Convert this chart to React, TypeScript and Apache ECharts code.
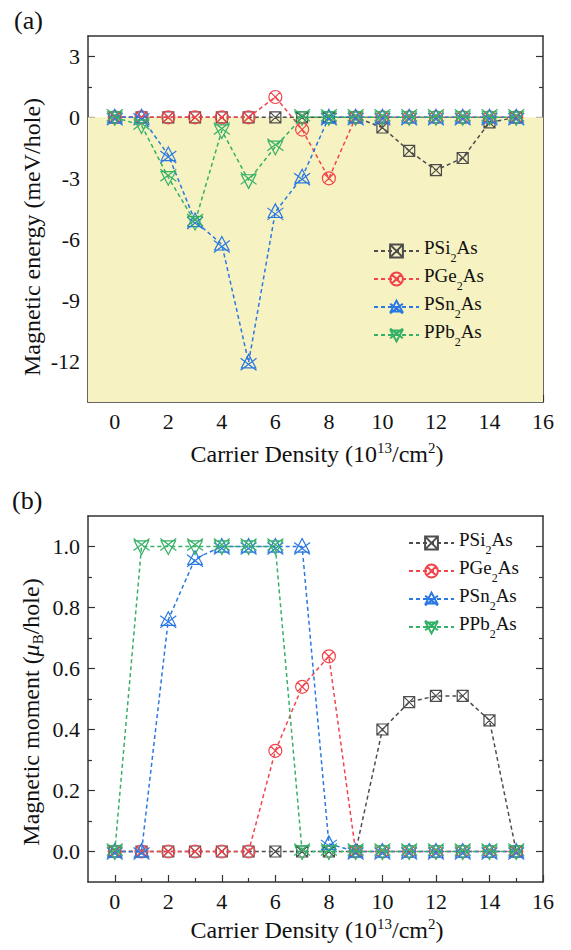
import React, { useEffect, useRef } from 'react';
import * as echarts from 'echarts';

// ---------- data ----------
const densities = [0, 1, 2, 3, 4, 5, 6, 7, 8, 9, 10, 11, 12, 13, 14, 15];
const seriesNames = ['PSi2As', 'PGe2As', 'PSn2As', 'PPb2As'];

const energySi = [0, 0, 0, 0, 0, 0, 0, 0, 0, 0, -0.5, -1.65, -2.6, -2.0, -0.25, 0];
const energyGe = [0, 0, 0, 0, 0, 0, 1.0, -0.6, -3.0, 0, 0, 0, 0, 0, 0, 0];
const energySn = [0, 0, -1.85, -5.1, -6.25, -12.05, -4.65, -2.95, 0, 0, 0, 0, 0, 0, 0, 0];
const energyPb = [0, -0.4, -2.95, -5.15, -0.65, -3.1, -1.45, 0, 0, 0, 0, 0, 0, 0, 0, 0];

const momentSi = [0, 0, 0, 0, 0, 0, 0, 0, 0, 0, 0.40, 0.49, 0.51, 0.51, 0.43, 0];
const momentGe = [0, 0, 0, 0, 0, 0, 0.33, 0.54, 0.64, 0, 0, 0, 0, 0, 0, 0];
const momentSn = [0, 0, 0.76, 0.96, 1.0, 1.0, 1.0, 1.0, 0.025, 0, 0, 0, 0, 0, 0, 0];
const momentPb = [0, 1.0, 1.0, 1.0, 1.0, 1.0, 1.0, 0, 0, 0, 0, 0, 0, 0, 0, 0];

const xMajorTicks = [0, 2, 4, 6, 8, 10, 12, 14, 16];
const xMinorTicks = [1, 3, 5, 7, 9, 11, 13, 15];
const energyMajorTicks = [-12, -9, -6, -3, 0, 3];
const energyMinorTicks = [-13.5, -10.5, -7.5, -4.5, -1.5, 1.5];
const momentMajorTicks = [0, 0.2, 0.4, 0.6, 0.8, 1.0];
const momentMinorTicks = [0.1, 0.3, 0.5, 0.7, 0.9];

// ---------- styles ----------
const FONT = "'Times New Roman', 'Liberation Serif', Times, serif";
const AXIS_COLOR = '#333333';
const colors = ['#4d4d4d', '#f2444c', '#2a78e2', '#35b067'];
const symbols = [
  'path://M0,0L20,0L20,20L0,20ZM0,0L20,20M20,0L0,20',
  'path://M20,10A10,10,0,1,1,0,10A10,10,0,1,1,20,10ZM2.93,2.93L17.07,17.07M17.07,2.93L2.93,17.07',
  'path://M10,0L19,17L1,17ZM0,5L20,20M20,5L0,20',
  'path://M1,3L19,3L10,20ZM0,0L20,15M20,0L0,15',
];
const symbolSizes = [11, 13, 16, 16];

const legendParts: Record<string, [string, string]> = {
  PSi2As: ['PSi', 'As'],
  PGe2As: ['PGe', 'As'],
  PSn2As: ['PSn', 'As'],
  PPb2As: ['PPb', 'As'],
};

function pairs(ys: number[]) {
  return densities.map((x, i) => [x, ys[i]]);
}

function xAxes(gridIndex: number) {
  const line = { color: AXIS_COLOR, width: 1.5 };
  const base = { type: 'value', gridIndex, min: -1, max: 16, splitLine: { show: false } };
  return [
    {
      ...base,
      position: 'bottom',
      axisLine: { show: true, onZero: false, lineStyle: line },
      axisTick: { show: true, inside: true, length: 7, customValues: xMajorTicks, lineStyle: { color: AXIS_COLOR, width: 1.2 } },
      axisLabel: { show: true, customValues: xMajorTicks, margin: 8, color: '#111', fontSize: 22, fontFamily: FONT },
    },
    {
      ...base,
      position: 'bottom',
      axisLine: { show: false, onZero: false },
      axisTick: { show: true, inside: true, length: 4, customValues: xMinorTicks, lineStyle: { color: AXIS_COLOR, width: 1.2 } },
      axisLabel: { show: false },
    },
    {
      ...base,
      position: 'top',
      axisLine: { show: true, onZero: false, lineStyle: line },
      axisTick: { show: false },
      axisLabel: { show: false },
    },
  ];
}

function yAxes(gridIndex: number, min: number, max: number, major: number[], minor: number[], fmt: (v: number) => string) {
  const line = { color: AXIS_COLOR, width: 1.5 };
  const tickStyle = { color: AXIS_COLOR, width: 1.2 };
  const base = { type: 'value', gridIndex, min, max, splitLine: { show: false } };
  const out: any[] = [];
  (['left', 'right'] as const).forEach((pos) => {
    out.push({
      ...base,
      position: pos,
      axisLine: { show: true, onZero: false, lineStyle: line },
      axisTick: { show: true, inside: true, length: 7, customValues: major, lineStyle: tickStyle },
      axisLabel: pos === 'left'
        ? { show: true, customValues: major, margin: 8, color: '#111', fontSize: 22, fontFamily: FONT, formatter: fmt }
        : { show: false },
    });
    out.push({
      ...base,
      position: pos,
      axisLine: { show: false, onZero: false },
      axisTick: { show: true, inside: true, length: 4, customValues: minor, lineStyle: tickStyle },
      axisLabel: { show: false },
    });
  });
  return out;
}

function makeSeries(name: string, idx: number, ys: number[], xAxisIndex: number, yAxisIndex: number, extra: any = {}) {
  return {
    type: 'line',
    name,
    xAxisIndex,
    yAxisIndex,
    data: pairs(ys),
    symbol: symbols[idx],
    symbolSize: symbolSizes[idx],
    showAllSymbol: true,
    lineStyle: { color: colors[idx], width: 1.5, type: [4, 3] },
    itemStyle: { color: 'rgba(0,0,0,0)', borderColor: colors[idx], borderWidth: 1.2 },
    emphasis: { disabled: true },
    z: 2 + idx,
    ...extra,
  };
}

const legendRich = {
  n: { fontSize: 19, fontFamily: FONT, color: '#111', lineHeight: 26, verticalAlign: 'top' },
  sub: { fontSize: 12, fontFamily: FONT, color: '#111', lineHeight: 13, verticalAlign: 'bottom' },
};

function legend(left: number, top: number) {
  return {
    data: seriesNames,
    orient: 'vertical',
    left,
    top,
    itemWidth: 45,
    itemHeight: 16,
    itemGap: 2,
    selectedMode: false,
    textStyle: { fontFamily: FONT, fontSize: 19, color: '#111', rich: legendRich },
    formatter: (name: string) => {
      const p = legendParts[name];
      return `{n|${p[0]}}{sub|2}{n|${p[1]}}`;
    },
  };
}

const titleRich = {
  n: { fontSize: 24, fontFamily: FONT, fill: '#111', lineHeight: 28 },
  it: { fontSize: 24, fontFamily: FONT, fill: '#111', lineHeight: 28, fontStyle: 'italic' },
  sup: { fontSize: 15, fontFamily: FONT, fill: '#111', lineHeight: 15, verticalAlign: 'top' },
  sub: { fontSize: 15, fontFamily: FONT, fill: '#111', lineHeight: 12, verticalAlign: 'bottom' },
};

function titleText(text: string, x: number, y: number, rotation = 0) {
  return {
    type: 'text',
    x,
    y,
    rotation,
    silent: true,
    style: {
      text,
      rich: titleRich,
      align: 'center',
      verticalAlign: 'middle',
      fontSize: 24,
      fontFamily: FONT,
      fill: '#111',
    },
  };
}

export default function App() {
  const ref = useRef<HTMLDivElement>(null);
  useEffect(() => {
    if (!ref.current) return;
    const chart = echarts.init(ref.current, undefined, { renderer: 'svg' });
    const xTitle = '{n|Carrier Density (10}{sup|13}{n|/cm}{sup|2}{n|)}';
    const option: any = {
      animation: false,
      backgroundColor: '#ffffff',
      textStyle: { fontFamily: FONT },
      grid: [
        { left: 88, top: 36, width: 455, height: 366 },
        { left: 88, top: 516, width: 455, height: 366 },
      ],
      xAxis: [...xAxes(0), ...xAxes(1)],
      yAxis: [
        ...yAxes(0, -14, 4, energyMajorTicks, energyMinorTicks, (v: number) => String(v)),
        ...yAxes(1, -0.1, 1.1, momentMajorTicks, momentMinorTicks, (v: number) => v.toFixed(1)),
      ],
      legend: [legend(368, 233), legend(403, 525)],
      series: [
        makeSeries(seriesNames[0], 0, energySi, 0, 0, {
          markArea: {
            silent: true,
            itemStyle: { color: '#f6f2c1' },
            data: [[{ yAxis: 0 }, { yAxis: -14 }]],
          },
        }),
        makeSeries(seriesNames[1], 1, energyGe, 0, 0),
        makeSeries(seriesNames[2], 2, energySn, 0, 0),
        makeSeries(seriesNames[3], 3, energyPb, 0, 0),
        makeSeries(seriesNames[0], 0, momentSi, 3, 4),
        makeSeries(seriesNames[1], 1, momentGe, 3, 4),
        makeSeries(seriesNames[2], 2, momentSn, 3, 4),
        makeSeries(seriesNames[3], 3, momentPb, 3, 4),
      ],
      graphic: [
        { type: 'text', left: 14, top: 7, silent: true, style: { text: '(a)', fontSize: 26, fontFamily: FONT, fill: '#111' } },
        { type: 'text', left: 12, top: 487, silent: true, style: { text: '(b)', fontSize: 26, fontFamily: FONT, fill: '#111' } },
        titleText(xTitle, 317, 454),
        titleText(xTitle, 317, 930),
        titleText('{n|Magnetic energy (meV/hole)}', 32, 237, Math.PI / 2),
        titleText('{n|Magnetic moment (}{it|μ}{sub|B}{n|/hole)}', 31, 712, Math.PI / 2),
      ],
    };
    chart.setOption(option);
    return () => chart.dispose();
  }, []);
  return (
    <div
      ref={ref}
      style={{ position: 'fixed', left: 0, top: 0, width: 571, height: 950, background: '#fff' }}
    />
  );
}
